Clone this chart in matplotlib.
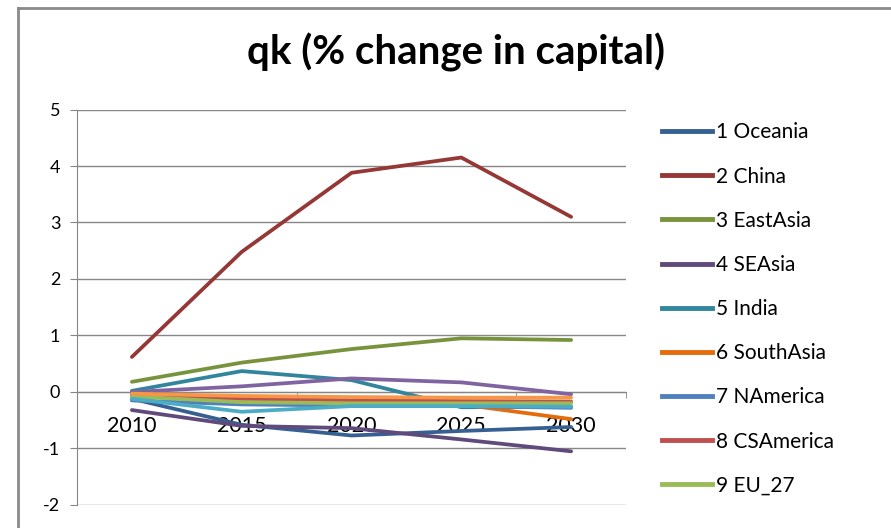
import matplotlib
matplotlib.use("Agg")
import matplotlib.pyplot as plt
from matplotlib.lines import Line2D

years = ["2010", "2015", "2020", "2025", "2030"]

# legend series (the chart's legend only shows the first nine)
names = ["1 Oceania", "2 China", "3 EastAsia", "4 SEAsia", "5 India",
         "6 SouthAsia", "7 NAmerica", "8 CSAmerica", "9 EU_27"]
oceania = [-0.12, -0.58, -0.77, -0.69, -0.62]
china = [0.62, 2.48, 3.88, 4.15, 3.10]
east_asia = [0.18, 0.52, 0.76, 0.95, 0.92]
se_asia = [-0.32, -0.60, -0.64, -0.84, -1.05]
india = [0.02, 0.37, 0.21, -0.27, -0.26]
south_asia = [-0.02, -0.12, -0.15, -0.22, -0.48]
n_america = [-0.15, -0.22, -0.24, -0.25, -0.28]
cs_america = [-0.05, -0.12, -0.15, -0.16, -0.17]
eu_27 = [-0.08, -0.18, -0.20, -0.20, -0.20]
# further regions drawn in the plot but cut off from the legend
extra_10 = [0.0, 0.10, 0.24, 0.17, -0.04]
extra_11 = [-0.12, -0.35, -0.25, -0.25, -0.26]
extra_12 = [-0.03, -0.07, -0.09, -0.10, -0.10]

series = [oceania, china, east_asia, se_asia, india, south_asia,
          n_america, cs_america, eu_27, extra_10, extra_11, extra_12]
colors = ["#376092", "#953735", "#77933C", "#604A7B", "#31859C", "#E46C0A",
          "#4F81BD", "#C0504D", "#9BBB59", "#8064A2", "#4BACC6", "#F79646"]

plt.rcParams["font.family"] = ["Lato", "DejaVu Sans"]
plt.rcParams["axes.unicode_minus"] = False
grey = "#868686"

fig = plt.figure(figsize=(8.91, 5.28), dpi=100)
ax = fig.add_axes([0.0864, 0.0436, 0.6162, 0.749])

xs = [i + 0.5 for i in range(len(years))]
for i, (vals, c) in enumerate(zip(series, colors)):
    label = names[i] if i < len(names) else "_nolegend_"
    ax.plot(xs, vals, color=c, lw=2.7, label=label, zorder=3,
            solid_capstyle="round", solid_joinstyle="round")

ax.set_xlim(0, 5)
ax.set_ylim(-2, 5)
ax.set_yticks(range(-2, 6))
ax.yaxis.grid(True, color=grey, lw=1)
ax.tick_params(axis="y", direction="out", length=5, color=grey,
               labelsize=13, pad=7)

for s in ["top", "right"]:
    ax.spines[s].set_visible(False)
ax.spines["left"].set_color(grey)
ax.spines["bottom"].set_position(("data", 0))
ax.spines["bottom"].set_color(grey)

ax.set_xticks(xs)
ax.set_xticklabels(years)
ax.set_xticks(range(0, 6), minor=True)
ax.tick_params(axis="x", which="major", length=0, labelsize=15.5, pad=17)
ax.tick_params(axis="x", which="minor", direction="out", length=4.5, color=grey)

fig.text(0.512, 0.90, "qk (% change in capital)", ha="center", va="center",
         fontsize=29, fontweight="bold")

handles = [Line2D([0], [0], color=c, lw=3.5) for c in colors[:9]]
fig.legend(handles, names, loc="upper left", bbox_to_anchor=(0.734, 0.784),
           frameon=False, fontsize=15, handlelength=2.4, handletextpad=0.2,
           labelspacing=1.16, borderaxespad=0)

# outer chart frame (top and left edges visible in the crop)
fig.add_artist(Line2D([18 / 891, 18 / 891], [0, 1 - 8 / 528],
                      transform=fig.transFigure, color="#8a8a8a", lw=2))
fig.add_artist(Line2D([18 / 891, 1], [1 - 8 / 528, 1 - 8 / 528],
                      transform=fig.transFigure, color="#8a8a8a", lw=2))

fig.savefig("out.png", dpi=100)
